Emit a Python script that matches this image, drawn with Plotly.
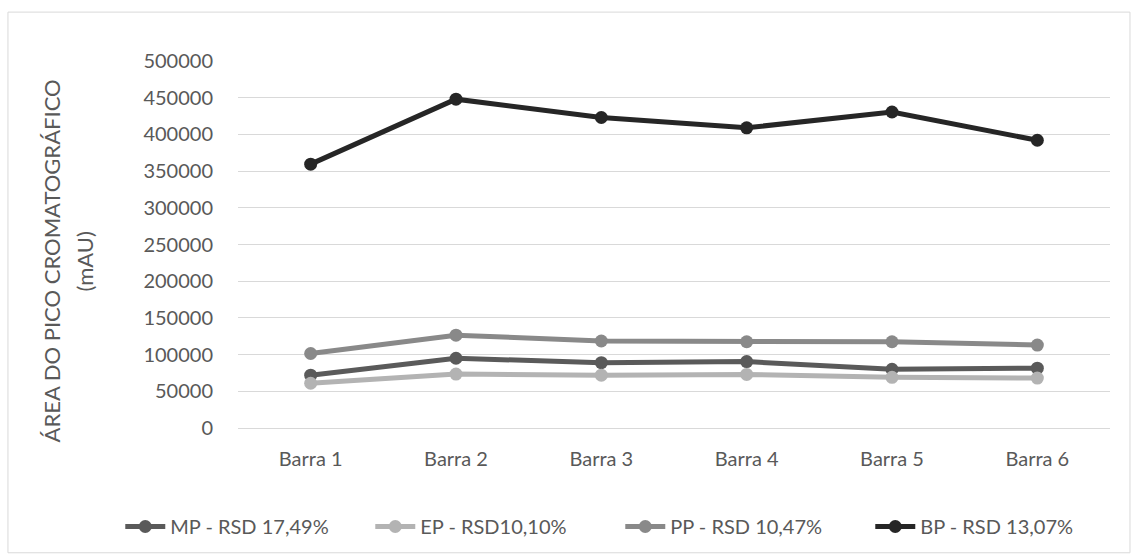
import plotly.graph_objects as go

# Chromatographic peak area per bar, four sample types
barras = ["Barra 1", "Barra 2", "Barra 3", "Barra 4", "Barra 5", "Barra 6"]
mp = [72000, 95000, 89000, 90500, 80000, 81500]
ep = [61000, 73500, 72000, 73000, 69000, 68000]
pp = [101500, 126500, 118500, 117500, 117500, 113000]
bp = [359500, 448000, 423000, 409000, 430500, 392000]

series_names = ["MP - RSD 17,49%", "EP - RSD10,10%", "PP - RSD 10,47%", "BP - RSD 13,07%"]
series_values = [mp, ep, pp, bp]
series_colors = ["#5a5a5a", "#b3b3b3", "#898989", "#262626"]

y_ticks = [0, 50000, 100000, 150000, 200000, 250000, 300000, 350000, 400000, 450000, 500000]

FONT = "Lato, 'Open Sans', sans-serif"
TEXT = "#595959"
GRID = "#d9d9d9"

fig = go.Figure()
for name, vals, col in zip(series_names, series_values, series_colors):
    fig.add_trace(go.Scatter(
        x=barras, y=vals, name=name, mode="lines+markers",
        line=dict(color=col, width=5),
        marker=dict(color=col, size=13),
    ))

fig.update_layout(
    width=1131, height=557,
    margin=dict(l=238, r=21, t=61, b=128),
    paper_bgcolor="white", plot_bgcolor="white",
    font=dict(family=FONT, size=20, color=TEXT),
    showlegend=True,
    legend=dict(
        orientation="h", x=-0.135, xanchor="left", y=-0.265, yanchor="middle",
        font=dict(family=FONT, size=20, color=TEXT),
        itemwidth=40, entrywidth=195, entrywidthmode="pixels",
        bgcolor="rgba(0,0,0,0)",
    ),
    xaxis=dict(
        type="category", range=[-0.5, 5.5], showgrid=False, zeroline=False,
        showline=False, ticks="outside", ticklen=13, tickcolor="rgba(0,0,0,0)",
        tickfont=dict(family=FONT, size=20, color=TEXT),
    ),
    yaxis=dict(
        range=[0, 500000], tickvals=y_ticks, ticktext=[str(v) for v in y_ticks],
        showgrid=True, gridcolor=GRID, gridwidth=1,
        zeroline=True, zerolinecolor=GRID, zerolinewidth=1,
        showline=False, ticks="outside", ticklen=20, tickcolor="rgba(0,0,0,0)",
        tickfont=dict(family=FONT, size=20, color=TEXT),
    ),
    shapes=[dict(
        type="rect", xref="paper", yref="paper",
        x0=-0.2638, x1=1.0229, y0=-0.34, y1=1.1332,
        line=dict(color=GRID, width=1), fillcolor="rgba(0,0,0,0)", layer="below",
    )],
    annotations=[
        dict(text="ÁREA DO PICO CROMATOGRÁFICO", textangle=-90,
             xref="paper", yref="paper", x=(51 - 238) / 872, y=(429 - 262) / 368,
             xanchor="center", yanchor="middle", showarrow=False,
             font=dict(family=FONT, size=22, color=TEXT)),
        dict(text="(mAU)", textangle=-90,
             xref="paper", yref="paper", x=(84 - 238) / 872, y=(429 - 262) / 368,
             xanchor="center", yanchor="middle", showarrow=False,
             font=dict(family=FONT, size=22, color=TEXT)),
    ],
)

fig.write_html("out.html")
